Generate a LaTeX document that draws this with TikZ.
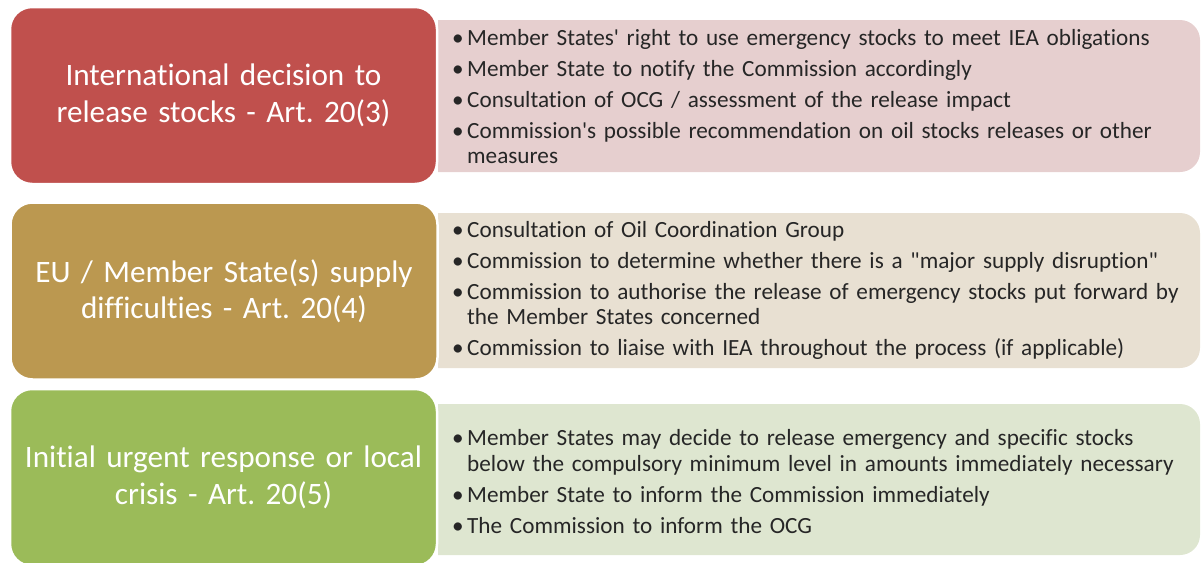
\documentclass[tikz,border=0pt]{standalone}
\usepackage{fontspec}
\newfontfamily\calib{Carlito}[Ligatures=NoCommon]
\usepackage{xcolor}
\usepackage{tikz}
\definecolor{redbox}{HTML}{C0504D}
\definecolor{goldbox}{HTML}{BB9850}
\definecolor{greenbox}{HTML}{9BBB59}
\definecolor{redlight}{HTML}{E6CFCF}
\definecolor{goldlight}{HTML}{E8E0D2}
\definecolor{greenlight}{HTML}{DEE6D0}
\definecolor{itemtext}{HTML}{262626}
\newcommand{\itm}[1]{\par\hangindent=15pt\hangafter=1\noindent\makebox[15pt][l]{•}#1}

\begin{document}
\begin{tikzpicture}[x=1pt, y=-1pt,
    head/.style={rounded corners=22pt, draw=white, line width=2.5pt,
        minimum width=427pt, minimum height=177pt, inner sep=0pt,
        text=white, text width=420pt, align=center,
        font=\calib\frenchspacing\fontsize{31.2}{36.5}\selectfont},
    items/.style={anchor=west, inner sep=0pt, text width=745pt, align=left,
        text=itemtext,
        font=\calib\frenchspacing\fontsize{23.2}{25.5}\selectfont\setlength{\parskip}{5.5pt}}]
        \clip (0,0) rectangle (1201,562);
        \foreach \t/\b/\c in {20/172/redlight, 213/368/goldlight, 404/555/greenlight}
        {
        \begin{scope}
        \clip (438,0) rectangle (1201,562);
        \fill[\c, rounded corners=20pt] (400,\t) rectangle (1200,\b);
        \end{scope}
        }
        \node[head, fill=redbox] (intl) at (223.5,95.5)
        {International decision to\\release stocks - Art. 20(3)};
        \node[head, fill=goldbox] (supply) at (224,291)
        {EU / Member State(s) supply\\difficulties - Art. 20(4)};
        \node[head, fill=greenbox] (urgent) at (223.5,477.5)
        {Initial urgent response or local\\crisis - Art. 20(5)};
        \node[items] (intlitems) at (452,89) {%
        \itm{Member States' right to use emergency stocks to meet IEA obligations}
        \itm{Member State to notify the Commission accordingly}
        \itm{Consultation of OCG / assessment of the release impact}
        \itm{Commission's possible recommendation on oil stocks releases or other\newline measures}\par};
        \node[items] (supplyitems) at (452,283) {%
        \itm{Consultation of Oil Coordination Group}
        \itm{Commission to determine whether there is a "major supply disruption"}
        \itm{Commission to authorise the release of emergency stocks put forward by\newline the Member States concerned}
        \itm{Commission to liaise with IEA throughout the process (if applicable)}\par};
        \node[items] (urgentitems) at (452,474) {%
        \itm{Member States may decide to release emergency and specific stocks\newline below the compulsory minimum level in amounts immediately necessary}
        \itm{Member State to inform the Commission immediately}
        \itm{The Commission to inform the OCG}\par};
    \end{tikzpicture}
\end{document}
